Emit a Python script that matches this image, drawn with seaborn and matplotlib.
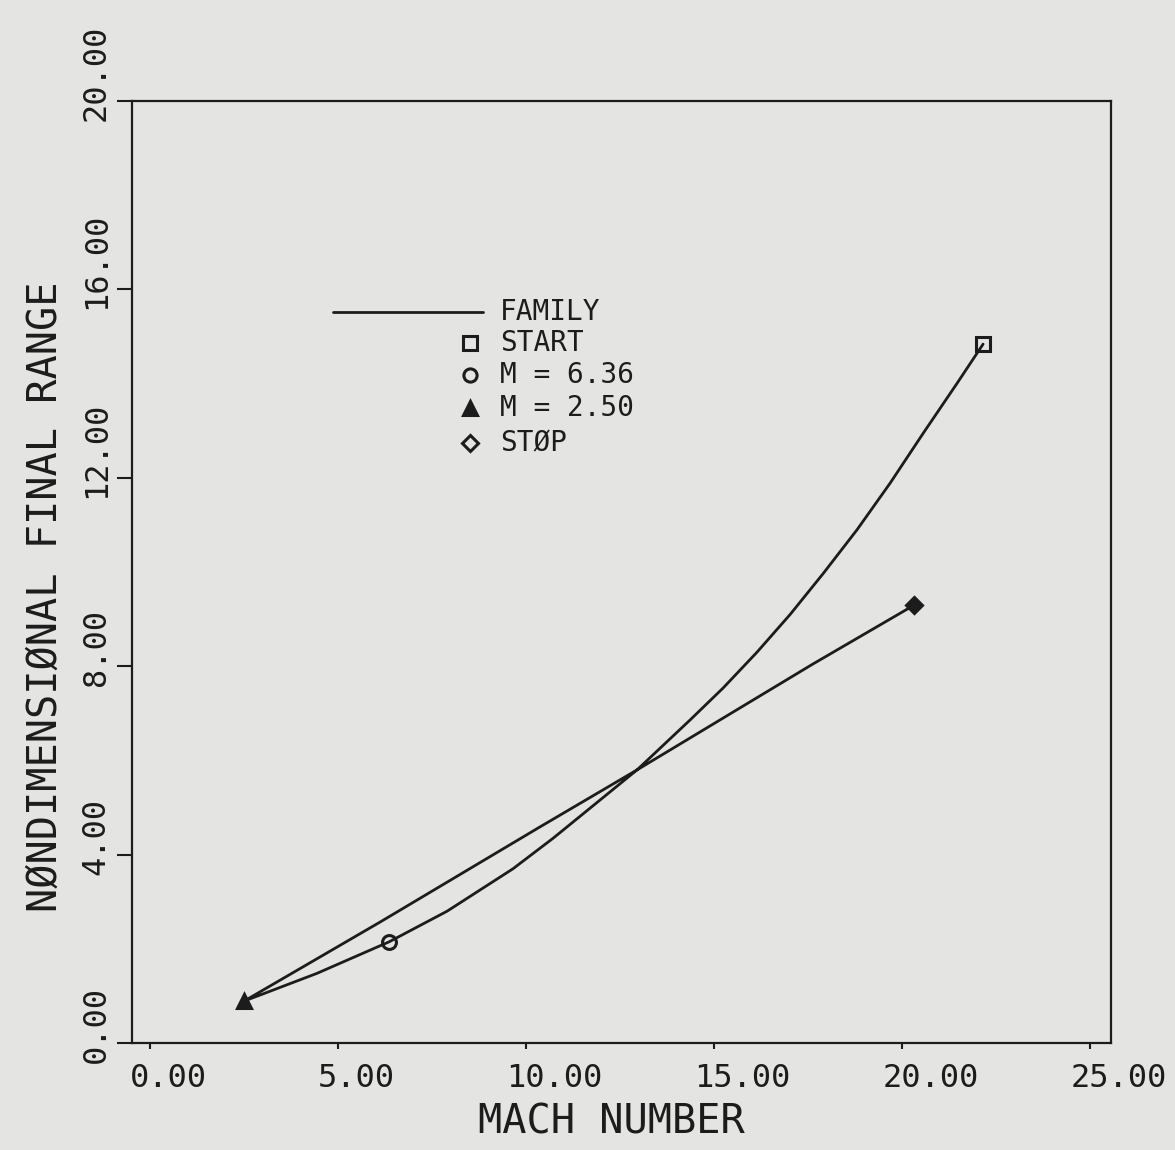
import matplotlib
matplotlib.use("Agg")
import matplotlib.pyplot as plt
import matplotlib.transforms as mtransforms
import seaborn as sns
import pandas as pd

# ---------------- data ----------------
# family trajectory: START -> ... -> M=2.50 -> ... -> STOP
family_mach = [22.15, 21.46, 20.56, 19.68, 18.80, 17.90, 17.02, 16.14, 15.24,
               14.36, 12.95, 10.72, 9.65, 7.90, 6.36, 4.44, 2.50,
               6.12, 10.37, 12.95, 17.63, 20.32]
family_range = [14.84, 14.01, 12.95, 11.89, 10.90, 9.97, 9.10, 8.30, 7.54,
                6.86, 5.80, 4.35, 3.70, 2.80, 2.15, 1.48, 0.89,
                2.57, 4.59, 5.80, 8.05, 9.30]

point_labels = ["START", "M = 6.36", "M = 2.50", "STØP"]
point_mach = [22.15, 6.36, 2.50, 20.32]
point_range = [14.84, 2.15, 0.89, 9.30]
point_markers = ["s", "o", "^", "D"]
point_filled = [False, False, True, True]

x_ticks = [0, 5, 10, 15, 20, 25]
x_ticklabels = ["0.00", "5.00", "10.00", "15.00", "20.00", "25.00"]
y_ticks = [0, 4, 8, 12, 16, 20]
y_ticklabels = ["0.00", "4.00", "8.00", "12.00", "16.00", "20.00"]

x_label = "MACH NUMBER"
y_label = "NØNDIMENSIØNAL FINAL RANGE"
legend_line_label = "FAMILY"

# ---------------- style ----------------
BG = "#e4e4e2"
INK = "#1c1c1c"
MSIZE = {"s": 10.5, "o": 10, "^": 10, "D": 8.5}

sns.set_theme(style="white")
plt.rcParams["font.family"] = ["DejaVu Sans Mono", "DejaVu Sans"]

fig = plt.figure(figsize=(11.75, 11.5), dpi=100, facecolor=BG)
ax = fig.add_axes([0.1123, 0.0930, 0.8332, 0.8191])
ax.set_facecolor(BG)

df = pd.DataFrame({"M": family_mach, "R": family_range})
sns.lineplot(data=df, x="M", y="R", sort=False, estimator=None,
             color=INK, linewidth=2.0, ax=ax,
             solid_joinstyle="round", solid_capstyle="round")

for m, xv, yv, filled in zip(point_markers, point_mach, point_range, point_filled):
    ax.plot([xv], [yv], linestyle="none", marker=m, markersize=MSIZE[m],
            markeredgecolor=INK, markeredgewidth=2.2,
            markerfacecolor=INK if filled else "none", zorder=5)

ax.set_xlim(-0.48, 25.55)
ax.set_ylim(0, 20)

for s in ax.spines.values():
    s.set_color(INK)
    s.set_linewidth(1.6)

ax.set_xticks(x_ticks)
ax.set_xticklabels(x_ticklabels)
ax.set_yticks(y_ticks)
ax.set_yticklabels(y_ticklabels, rotation=90)

ax.tick_params(axis="x", direction="out", length=4.5, width=1.5, color=INK,
               labelsize=23, labelcolor=INK, pad=10, bottom=True)
ax.tick_params(axis="y", direction="out", length=11, width=1.5, color=INK,
               labelsize=23, labelcolor=INK, pad=3.5, left=True)

dx = mtransforms.ScaledTranslation(-20 / 100, 0, fig.dpi_scale_trans)
for lab in ax.get_xticklabels():
    lab.set_ha("left")
    lab.set_transform(lab.get_transform() + dx)
dy = mtransforms.ScaledTranslation(0, -20 / 100, fig.dpi_scale_trans)
for lab in ax.get_yticklabels():
    lab.set_va("bottom")
    lab.set_ha("right")
    lab.set_transform(lab.get_transform() + dy)

ax.set_xlabel(x_label, fontsize=29, color=INK)
ax.xaxis.set_label_coords(0.49, -0.0845)
ax.xaxis.label.set_va("center")
ax.set_ylabel(y_label, fontsize=29, color=INK)
ax.yaxis.label.set_va("center")
ax.yaxis.label.set_ha("center")
ax.yaxis.set_label_coords(-0.0878, 0.4735)

# ---------------- legend (hand-built, plotter style) ----------------
leg_line_x = (0.2053, 0.3585)
leg_marker_x = 0.3453
leg_text_x = 0.3759
leg_rows = [0.776, 0.743, 0.709, 0.674, 0.637]

ax.plot(leg_line_x, [leg_rows[0]] * 2, color=INK, linewidth=2.0,
        transform=ax.transAxes, clip_on=False)
ax.text(leg_text_x, leg_rows[0], legend_line_label, transform=ax.transAxes,
        fontsize=20, color=INK, va="center", ha="left")
for lab, m, filled, yy in zip(point_labels, point_markers, point_filled, leg_rows[1:]):
    ax.plot([leg_marker_x], [yy], marker=m, markersize=MSIZE[m] - 0.5,
            markeredgecolor=INK, markeredgewidth=2.2,
            markerfacecolor=INK if (filled and m == "^") else "none",
            linestyle="none", transform=ax.transAxes, clip_on=False)
    ax.text(leg_text_x, yy, lab, transform=ax.transAxes,
            fontsize=20, color=INK, va="center", ha="left")

fig.savefig("out.png", dpi=100, facecolor=BG)
